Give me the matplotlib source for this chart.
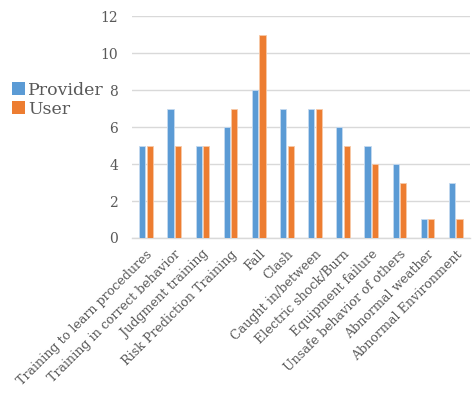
import matplotlib
matplotlib.use("Agg")
import matplotlib.pyplot as plt
import numpy as np

categories = [
    "Training to learn procedures",
    "Training in correct behavior",
    "Judgment training",
    "Risk Prediction Training",
    "Fall",
    "Clash",
    "Caught in/between",
    "Electric shock/Burn",
    "Equipment failure",
    "Unsafe behavior of others",
    "Abnormal weather",
    "Abnormal Environment",
]
provider = [5, 7, 5, 6, 8, 7, 7, 6, 5, 4, 1, 3]
user = [5, 5, 5, 7, 11, 5, 7, 5, 4, 3, 1, 1]
yticks = [0, 2, 4, 6, 8, 10, 12]

plt.rcParams["font.family"] = "DejaVu Serif"
text_col = "#595959"

fig = plt.figure(figsize=(4.75, 3.94), dpi=100)
ax = fig.add_axes([0.278, 0.396, 0.711, 0.563])

x = np.arange(len(categories))
w = 0.22
ax.bar(x - 0.135, provider, w, color="#5B9BD5", edgecolor="#c5daf0",
       linewidth=0.6, label="Provider", zorder=3)
ax.bar(x + 0.135, user, w, color="#ED7D31", edgecolor="#f7c9a8",
       linewidth=0.6, label="User", zorder=3)

ax.set_xlim(-0.5, len(categories) - 0.5)
ax.set_ylim(0, 12)
ax.set_yticks(yticks)
ax.yaxis.grid(True, color="#d9d9d9", linewidth=1.0, zorder=0)
for s in ["top", "right", "left"]:
    ax.spines[s].set_visible(False)
ax.spines["bottom"].set_color("#d9d9d9")
ax.spines["bottom"].set_linewidth(1.0)
ax.tick_params(axis="both", length=0, colors=text_col, labelsize=10)
ax.tick_params(axis="y", pad=10)
ax.tick_params(axis="x", pad=7)
ax.set_xticks(x)
ax.set_xticklabels(categories, rotation=45, ha="right",
                   rotation_mode="anchor", fontsize=9.1, color=text_col)

leg = fig.legend(loc="upper left", bbox_to_anchor=(0.01, 0.81), frameon=False,
                 fontsize=12.5, handlelength=0.75, handleheight=0.75,
                 handletextpad=0.2, labelspacing=0.1, borderaxespad=0,
                 labelcolor=text_col)
for h in leg.legend_handles:
    h.set_linewidth(0)

fig.savefig("out.png", dpi=100)
